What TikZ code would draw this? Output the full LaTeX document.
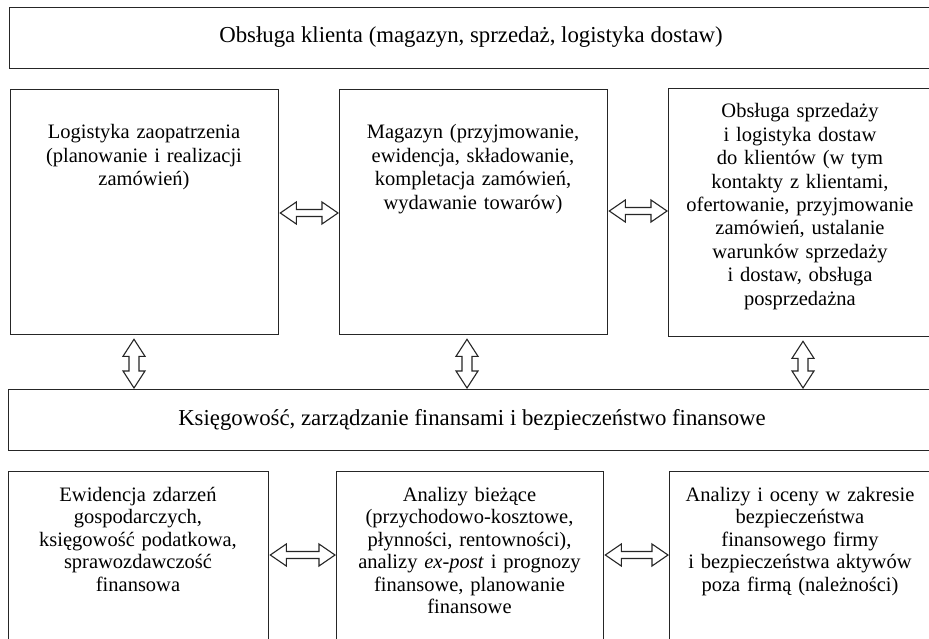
\documentclass[tikz,border=0pt]{standalone}
\usepackage{fontspec}
\setmainfont{Liberation Serif}
\usetikzlibrary{calc}
\tikzset{
  box/.style={draw=black!85, line width=1.3pt, fill=white, rectangle, inner sep=0pt, anchor=north west},
  txt/.style={text width=300pt, align=center, inner sep=0pt, anchor=base, font=\fontsize{20.5}{23.4}\selectfont},
  txtb/.style={text width=300pt, align=center, inner sep=0pt, anchor=base, font=\fontsize{20.5}{22.5}\selectfont},
  head/.style={inner sep=0pt, font=\fontsize{22.8}{26}\selectfont},
  barrow/.style={draw=black!85, line width=1.1pt, fill=white, line join=miter},
}
% horizontal double block arrow between #1.east and #2.west at height #3
\newcommand\harr[3]{%
  \draw[barrow] let \p1=(#1.east), \p2=(#2.west) in
    (\x1+1,#3) -- (\x1+17,#3+11) -- (\x1+17,#3+3.5) -- (\x2-17,#3+3.5) -- (\x2-17,#3+11)
    -- (\x2-1,#3) -- (\x2-17,#3-11) -- (\x2-17,#3-3.5) -- (\x1+17,#3-3.5) -- (\x1+17,#3-11) -- cycle;}
% vertical double block arrow between #1.south and #2.north at abscissa #3
\newcommand\varr[3]{%
  \draw[barrow] let \p1=(#1.south), \p2=(#2.north) in
    (#3,\y1-4) -- (#3+11,\y1-21) -- (#3+5,\y1-21) -- (#3+5,\y2+18) -- (#3+11,\y2+18)
    -- (#3,\y2+1) -- (#3-11,\y2+18) -- (#3-5,\y2+18) -- (#3-5,\y1-21) -- (#3-11,\y1-21) -- cycle;}
\begin{document}
\begin{tikzpicture}[x=1pt,y=1pt]
\clip (0,0) rectangle (929,-639);
\fill[white] (0,0) rectangle (929,-639);
% boxes
\node[box, minimum width=931pt, minimum height=61pt] (T) at (9,-7) {};
\node[box, minimum width=268pt, minimum height=245pt] (L1) at (10,-89) {};
\node[box, minimum width=268pt, minimum height=245pt] (M1) at (339,-89) {};
\node[box, minimum width=264pt, minimum height=248pt] (R1) at (668,-88) {};
\node[box, minimum width=932pt, minimum height=61pt] (K) at (8,-389) {};
\node[box, minimum width=260pt, minimum height=200pt] (L3) at (8,-471) {};
\node[box, minimum width=267pt, minimum height=200pt] (M3) at (336,-471) {};
\node[box, minimum width=263pt, minimum height=200pt] (R3) at (669,-471) {};
% texts
\node[head] (Tt) at (471,-37) {Obsługa klienta (magazyn, sprzedaż, logistyka dostaw)};
\node[txt] (L1t) at (144,-139) {Logistyka zaopatrzenia\\(planowanie i realizacji\\zamówień)};
\node[txt] (M1t) at (473,-139) {Magazyn (przyjmowanie,\\ewidencja, składowanie,\\kompletacja zamówień,\\wydawanie towarów)};
\node[txt] (R1t) at (800,-118) {Obsługa sprzedaży\\i logistyka dostaw\\do klientów (w tym\\kontakty z klientami,\\ofertowanie, przyjmowanie\\zamówień, ustalanie\\warunków sprzedaży\\i dostaw, obsługa\\posprzedażna};
\node[head] (Kt) at (472,-419.5) {Księgowość, zarządzanie finansami i bezpieczeństwo finansowe};
\node[txtb] (L3t) at (138,-501) {Ewidencja zdarzeń\\gospodarczych,\\księgowość podatkowa,\\sprawozdawczość\\finansowa};
\node[txtb] (M3t) at (469.5,-501) {Analizy bieżące\\(przychodowo-kosztowe,\\płynności, rentowności),\\analizy \textit{ex-post} i prognozy\\finansowe, planowanie\\finansowe};
\node[txtb] (R3t) at (800,-501) {Analizy i oceny w zakresie\\bezpieczeństwa\\finansowego firmy\\i bezpieczeństwa aktywów\\poza firmą (należności)};
% arrows
\harr{L1}{M1}{-213}
\harr{M1}{R1}{-211}
\harr{L3}{M3}{-555}
\harr{M3}{R3}{-555}
\varr{L1}{K}{134}
\varr{M1}{K}{467}
\varr{R1}{K}{803}
\end{tikzpicture}
\end{document}
